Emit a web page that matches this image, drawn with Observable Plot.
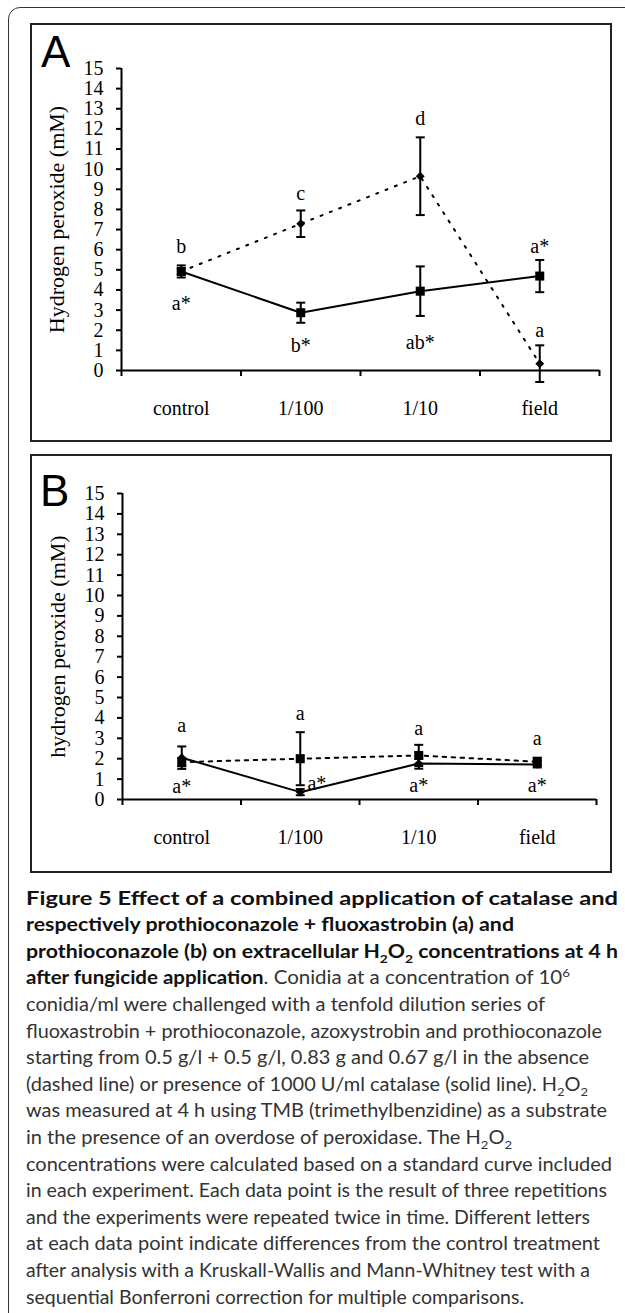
<!DOCTYPE html>
<html><head><meta charset="utf-8">
<script src="https://cdn.jsdelivr.net/npm/d3@7"></script>
<script src="https://cdn.jsdelivr.net/npm/@observablehq/plot@0.6"></script>
<style>
html,body{margin:0;padding:0;background:#fff;}
#page{position:relative;width:625px;height:1313px;overflow:hidden;background:#fff;}
.frame{position:absolute;left:8px;top:7px;width:700px;height:1400px;border:1.5px solid #333;border-radius:12px;box-sizing:border-box;}
.box{position:absolute;left:30px;width:582px;height:419px;border:2px solid #222;box-sizing:border-box;}
.plot{position:absolute;left:0;}
.letter{position:absolute;font-family:"Liberation Sans",Arial,sans-serif;font-size:44px;line-height:1;color:#000;}
.cap{position:absolute;left:26px;white-space:nowrap;font-family:Lato,"Open Sans",sans-serif;font-size:18.5px;line-height:26.6px;transform-origin:0 50%;color:#333;}
.cap b{color:#111;}
.cap sub,.cap sup{font-size:0.65em;line-height:0;}
</style></head>
<body>
<div id="page">
  <div class="frame"></div>
  <div class="box" style="top:23px"></div>
  <div class="box" style="top:454px"></div>
  <div class="letter" style="left:41px;top:29.5px">A</div>
  <div class="letter" style="left:40px;top:468.5px">B</div>
  <div id="plotA" class="plot" style="top:24px"></div>
  <div id="plotB" class="plot" style="top:455px"></div>
  <div id="caption"></div>
</div>
<script>
// ---------- data ----------
const categories = ["control", "1/100", "1/10", "field"];
const yTicks = [0,1,2,3,4,5,6,7,8,9,10,11,12,13,14,15];

// Panel A (dotted = without catalase, solid = with catalase)
const aDottedMean = [4.92, 7.29, 9.65, 0.34];
const aDottedErr  = [0.15, 0.66, 1.93, 0.91];
const aSolidMean  = [4.92, 2.87, 3.94, 4.69];
const aSolidErr   = [0.30, 0.50, 1.23, 0.80];
const aDottedLetters = ["b", "c", "d", "a"];
const aDottedLetterY = [6.13, 8.81, 12.5, 1.99];
const aSolidLetters  = ["a*", "b*", "ab*", "a*"];
const aSolidLetterY  = [3.34, 1.24, 1.41, 6.13];

// Panel B
const bDottedMean = [1.83, 2.00, 2.16, 1.85];
const bDottedErr  = [0.20, 1.30, 0.52, 0.20];
const bSolidMean  = [2.05, 0.36, 1.76, 1.72];
const bSolidErr   = [0.55, 0.15, 0.25, 0.15];
const bDottedLetters = ["a", "a", "a", "a"];
const bDottedLetterY = [3.63, 4.20, 3.47, 2.98];
const bSolidLetters  = ["a*", "a*", "a*", "a*"];
const bSolidLetterY  = [0.64, 0.77, 0.69, 0.69];
const bSolidLetterShift = [0, 0.14, 0, 0];

// ---------- chart ----------
function series(means, errs, letters, letterY, shift) {
  return categories.map((c, i) => ({
    c, x: i + 0.5, v: means[i], lo: means[i] - errs[i], hi: means[i] + errs[i],
    t: letters[i], ty: letterY[i], tx: i + 0.5 + (shift ? shift[i] : 0)
  }));
}
const capSymbol = {draw(ctx) { ctx.moveTo(-4.5, 0); ctx.lineTo(4.5, 0); }};

function panel(o) {
  const errMarks = (d) => [
    Plot.ruleX(d, {x: "x", y1: "lo", y2: "hi", stroke: "#000", strokeWidth: 2}),
    Plot.dot(d, {x: "x", y: "hi", symbol: capSymbol, r: 4, fill: "none", stroke: "#000", strokeWidth: 2}),
    Plot.dot(d, {x: "x", y: "lo", symbol: capSymbol, r: 4, fill: "none", stroke: "#000", strokeWidth: 2})
  ];
  return Plot.plot({
    width: 625, height: o.height,
    marginLeft: o.marginLeft, marginRight: o.marginRight, marginTop: o.marginTop, marginBottom: o.marginBottom,
    style: {background: "transparent", fontFamily: "'Liberation Serif','Times New Roman',serif", fontSize: "20px", color: "#000", overflow: "visible"},
    x: {domain: [0, 4], axis: null},
    y: {domain: [0, 15], axis: null},
    marks: [
      Plot.axisY({ticks: yTicks, tickSize: 5, tickPadding: 13, strokeWidth: 2, label: null, tickFormat: d => String(d)}),
      Plot.axisX({ticks: [0, 1, 2, 3, 4], tickSize: 6, tickFormat: () => "", strokeWidth: 2, label: null}),
      Plot.axisX({ticks: categories.map((c, i) => i + 0.5), tickSize: 0, tickPadding: 30,
                  tickFormat: v => categories[Math.floor(v)], label: null}),
      Plot.ruleX([0], {strokeWidth: 2}),
      Plot.ruleY([0], {strokeWidth: 2}),
      Plot.text([o.label], {text: d => d, frameAnchor: "left", textAnchor: "middle", lineAnchor: "middle", dx: -65, rotate: -90, fontSize: 22}),
      Plot.line(o.dotted, {x: "x", y: "v", stroke: "#000", strokeWidth: 2, strokeDasharray: o.dash}),
      Plot.line(o.solid, {x: "x", y: "v", stroke: "#000", strokeWidth: 2}),
      ...errMarks(o.dotted),
      ...errMarks(o.solid),
      Plot.dot(o.dotted, {x: "x", y: "v", symbol: o.dottedSymbol, r: o.dottedR, fill: "#000", stroke: "none"}),
      Plot.dot(o.solid, {x: "x", y: "v", symbol: o.solidSymbol, r: o.solidR, fill: "#000", stroke: "none"}),
      Plot.text(o.dotted, {x: "tx", y: "ty", text: "t", fontSize: 20}),
      Plot.text(o.solid, {x: "tx", y: "ty", text: "t", fontSize: 20})
    ]
  });
}

document.getElementById("plotA").appendChild(panel({
  height: 417, marginLeft: 121, marginRight: 26, marginTop: 44, marginBottom: 71,
  label: "Hydrogen peroxide (mM)",
  dotted: series(aDottedMean, aDottedErr, aDottedLetters, aDottedLetterY),
  solid: series(aSolidMean, aSolidErr, aSolidLetters, aSolidLetterY),
  dottedSymbol: "diamond2", dottedR: 4.0, solidSymbol: "square", solidR: 5.1,
  dash: "2,8"
}));
document.getElementById("plotB").appendChild(panel({
  height: 417, marginLeft: 122, marginRight: 29, marginTop: 38, marginBottom: 73,
  label: "hydrogen peroxide (mM)",
  dotted: series(bDottedMean, bDottedErr, bDottedLetters, bDottedLetterY),
  solid: series(bSolidMean, bSolidErr, bSolidLetters, bSolidLetterY, bSolidLetterShift),
  dottedSymbol: "square", dottedR: 5.1, solidSymbol: "diamond2", solidR: 4.0,
  dash: "3.5,5.5"
}));

// ---------- caption ----------
const captionLines = [
  "<b>Figure 5 Effect of a combined application of catalase and</b>",
  "<b>respectively prothioconazole + fluoxastrobin (a) and</b>",
  "<b>prothioconazole (b) on extracellular H<sub>2</sub>O<sub>2</sub> concentrations at 4 h</b>",
  "<b>after fungicide application</b>. Conidia at a concentration of 10<sup>6</sup>",
  "conidia/ml were challenged with a tenfold dilution series of",
  "fluoxastrobin + prothioconazole, azoxystrobin and prothioconazole",
  "starting from 0.5 g/l + 0.5 g/l, 0.83 g and 0.67 g/l in the absence",
  "(dashed line) or presence of 1000 U/ml catalase (solid line). H<sub>2</sub>O<sub>2</sub>",
  "was measured at 4 h using TMB (trimethylbenzidine) as a substrate",
  "in the presence of an overdose of peroxidase. The H<sub>2</sub>O<sub>2</sub>",
  "concentrations were calculated based on a standard curve included",
  "in each experiment. Each data point is the result of three repetitions",
  "and the experiments were repeated twice in time. Different letters",
  "at each data point indicate differences from the control treatment",
  "after analysis with a Kruskall-Wallis and Mann-Whitney test with a",
  "sequential Bonferroni correction for multiple comparisons."
];
const lineRightEdge = [618, 514, 618, 570, 545, 602, 589, 588, 607, 512, 612, 607, 590, 600, 590, 524];
const cap = document.getElementById("caption");
captionLines.forEach((html, i) => {
  const el = document.createElement("div");
  el.className = "cap";
  el.style.top = (884.5 + i * 26.6) + "px";
  el.innerHTML = html;
  cap.appendChild(el);
  const w = el.getBoundingClientRect().width;
  const target = lineRightEdge[i] - 26;
  el.style.transform = "scaleX(" + (target / w) + ")";
});
</script>
</body></html>
